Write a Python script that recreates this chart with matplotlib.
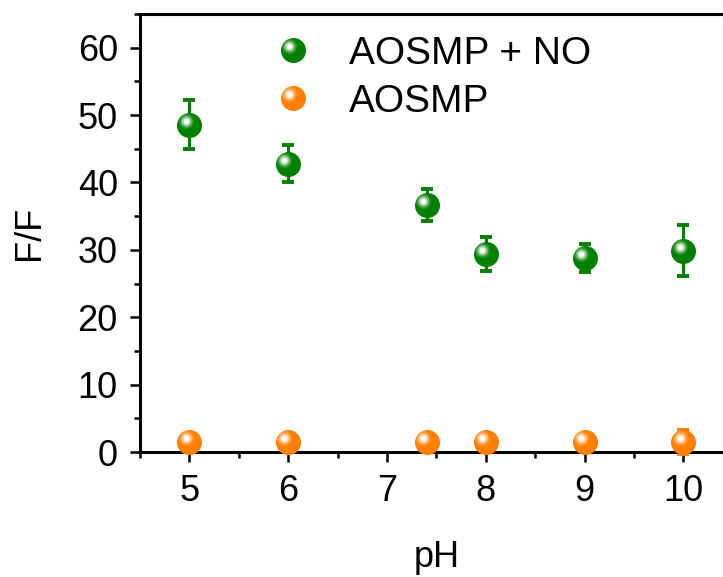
import numpy as np
import matplotlib
matplotlib.use("Agg")
import matplotlib.pyplot as plt
from matplotlib.ticker import MultipleLocator
from matplotlib.lines import Line2D
from matplotlib.legend_handler import HandlerBase
import matplotlib.transforms as mtransforms

plt.rcParams['font.family'] = ['Liberation Sans', 'DejaVu Sans']

# data
ph = [5, 6, 7.4, 8, 9, 10]
no_mean = [48.6, 42.8, 36.7, 29.4, 28.8, 29.9]
no_err = [3.6, 2.8, 2.4, 2.5, 2.1, 3.8]
base_mean = [1.5, 1.5, 1.5, 1.5, 1.5, 1.5]
base_err = [0.3, 0.3, 0.3, 0.3, 0.3, 1.8]

green = '#008000'
orange = '#ff8000'
msize = 17

fig = plt.figure(figsize=(7.23, 5.77), dpi=100)
ax = fig.add_axes([0.1936, 0.2166, 0.82, 0.7591])

# 高光层：(相对大小, 透明度)
GLOSS = [(0.65, 0.15), (0.5, 0.3), (0.36, 0.55), (0.22, 0.95)]


def glossy(ax, x, y, color, ms, zorder=3):
    """球形高光效果的散点"""
    ax.plot(x, y, 'o', color=color, ms=ms, mec=color, zorder=zorder, clip_on=False)
    off = mtransforms.offset_copy(ax.transData, fig=fig, x=-ms * 0.16, y=ms * 0.16, units='points')
    for k, a in GLOSS:
        ax.plot(x, y, 'o', color='white', ms=ms * k, mew=0, alpha=a,
                transform=off, zorder=zorder + 0.1, clip_on=False)


for m, e, c in [(no_mean, no_err, green), (base_mean, base_err, orange)]:
    ax.errorbar(ph, m, yerr=e, fmt='none', ecolor=c, elinewidth=2.2,
                capsize=4.5, capthick=2.8, zorder=2, clip_on=False)
    glossy(ax, ph, m, c, msize)

ax.set_xlim(4.5, 10.5)
ax.set_ylim(0, 65)
ax.xaxis.set_major_locator(MultipleLocator(1))
ax.xaxis.set_minor_locator(MultipleLocator(0.5))
ax.yaxis.set_major_locator(MultipleLocator(10))
ax.yaxis.set_minor_locator(MultipleLocator(5))
ax.tick_params(which='major', direction='out', length=7, width=1.8, labelsize=26, pad=9)
ax.tick_params(which='minor', direction='out', length=4, width=1.8)
ax.tick_params(top=False, right=False)
for s in ax.spines.values():
    s.set_linewidth(2.2)

ax.set_xlabel('pH', fontsize=26, labelpad=22)
ax.set_ylabel('F/F', fontsize=26, labelpad=22)


class GlossyHandler(HandlerBase):
    def create_artists(self, legend, orig, xd, yd, w, h, fs, trans):
        c = orig.get_color()
        cx, cy = xd + w / 2, yd + h / 2
        arts = [Line2D([cx], [cy], marker='o', color=c, ms=msize, transform=trans)]
        for k, a in GLOSS:
            arts.append(Line2D([cx - msize * 0.16], [cy + msize * 0.16], marker='o', color='white',
                               ms=msize * k, mew=0, alpha=a, transform=trans))
        return arts


h1 = Line2D([], [], color=green)
h2 = Line2D([], [], color=orange)
ax.legend([h1, h2], ['AOSMP + NO', 'AOSMP'], handler_map={Line2D: GlossyHandler()},
          loc='upper left', bbox_to_anchor=(0.16, 1.03), frameon=False, fontsize=28,
          handlelength=1.2, handletextpad=0.83, labelspacing=0.3)

fig.savefig('out.png', dpi=100)
